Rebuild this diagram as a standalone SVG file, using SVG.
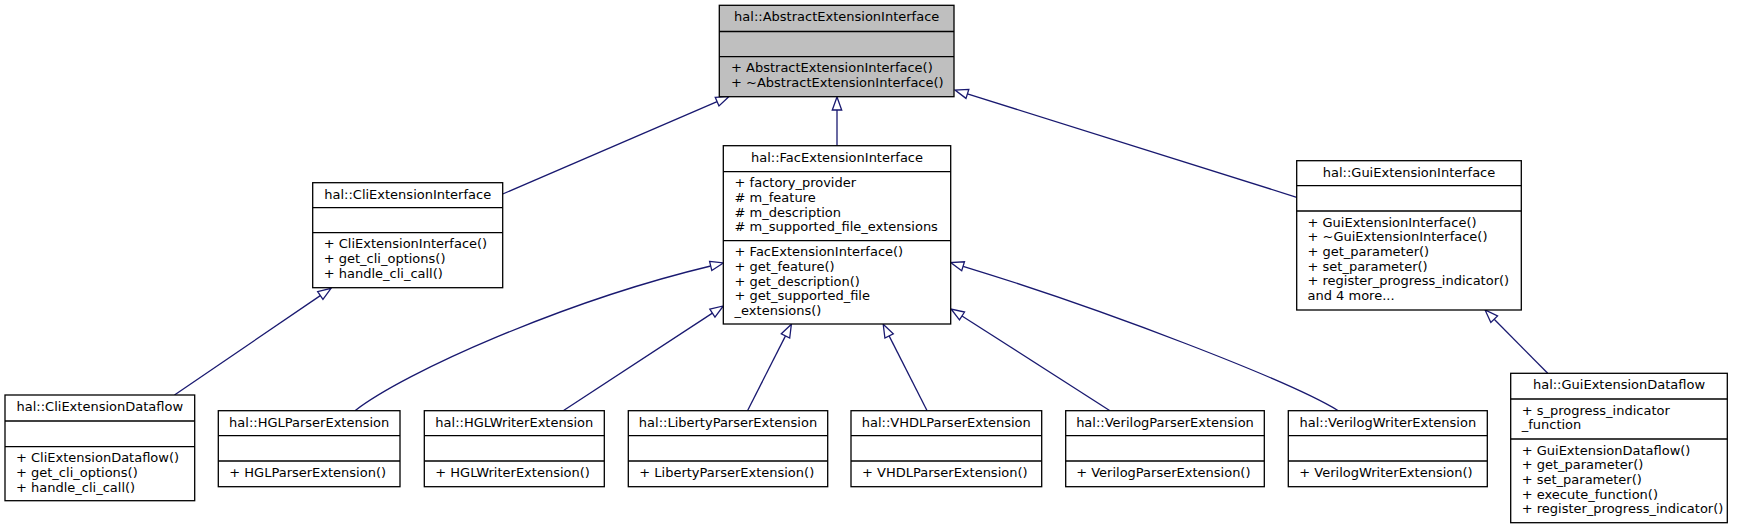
<svg xmlns="http://www.w3.org/2000/svg" width="1740" height="529" viewBox="0 0 1740 529">
<style>
text{font-family:"DejaVu Sans","Liberation Sans",sans-serif;font-size:13px;fill:#000}
.t{text-anchor:middle}
.b{fill:#fff;stroke:#000;stroke-width:1.3}
.g{fill:#bfbfbf;stroke:#000;stroke-width:1.3}
.d{stroke:#000;stroke-width:1.3}
.e{fill:none;stroke:#191970;stroke-width:1.3;marker-end:url(#ah)}
</style>
<defs>
<marker id="ah" markerUnits="userSpaceOnUse" markerWidth="16" markerHeight="12" viewBox="-1 -6 16 12" refX="0" refY="0" orient="auto" overflow="visible">
<path d="M0,-4.7 L13,0 L0,4.7 Z" fill="#fff" stroke="#191970" stroke-width="1.3"/>
</marker>
</defs>
<rect width="1740" height="529" fill="#fff"/>
<g id="connectors">
<path class="e" d="M502.7,194 L717.1,101.6"/>
<path class="e" d="M837,145.7 L837,110"/>
<path class="e" d="M1296.7,197.3 L967.4,93.9"/>
<path class="e" d="M174.5,395 L320.3,295.6"/>
<path class="e" d="M355,410.7 C405,372 564.9,301 710.7,266"/>
<path class="e" d="M563.2,410.7 L712.4,313.1"/>
<path class="e" d="M747.5,410.7 L785.5,335.9"/>
<path class="e" d="M927.1,410.7 L889.1,335.9"/>
<path class="e" d="M1110,410.7 L962,316"/>
<path class="e" d="M1338.3,410.7 C1290,381 1106,310 963.1,266.3"/>
<path class="e" d="M1547.7,373.3 L1494.2,319.2"/>
</g>
<g id="abstract">
<rect class="g" x="719.3" y="5.3" width="234.7" height="91.4"/>
<line class="d" x1="719.3" y1="31.5" x2="954" y2="31.5"/>
<line class="d" x1="719.3" y1="56.7" x2="954" y2="56.7"/>
<text class="t" x="836.7" y="21.3">hal::AbstractExtensionInterface</text>
<text x="731" y="72.3">+ AbstractExtensionInterface()</text>
<text x="731" y="87">+ ~AbstractExtensionInterface()</text>
</g>
<g id="cli">
<rect class="b" x="312.7" y="182.7" width="190" height="105"/>
<line class="d" x1="312.7" y1="207.7" x2="502.7" y2="207.7"/>
<line class="d" x1="312.7" y1="232.7" x2="502.7" y2="232.7"/>
<text class="t" x="407.7" y="198.7">hal::CliExtensionInterface</text>
<text x="323.7" y="248.3">+ CliExtensionInterface()</text>
<text x="323.7" y="263">+ get_cli_options()</text>
<text x="323.7" y="277.6">+ handle_cli_call()</text>
</g>
<g id="fac">
<rect class="b" x="723.3" y="145.7" width="227.4" height="178.3"/>
<line class="d" x1="723.3" y1="171.7" x2="950.7" y2="171.7"/>
<line class="d" x1="723.3" y1="240.7" x2="950.7" y2="240.7"/>
<text class="t" x="837" y="161.7">hal::FacExtensionInterface</text>
<text x="734.6" y="187.3">+ factory_provider</text>
<text x="734.6" y="202"># m_feature</text>
<text x="734.6" y="216.6"># m_description</text>
<text x="734.6" y="231.3"># m_supported_file_extensions</text>
<text x="734.6" y="256.3">+ FacExtensionInterface()</text>
<text x="734.6" y="271">+ get_feature()</text>
<text x="734.6" y="285.6">+ get_description()</text>
<text x="734.6" y="300.3">+ get_supported_file</text>
<text x="734.6" y="315">_extensions()</text>
</g>
<g id="gui">
<rect class="b" x="1296.7" y="160.7" width="224.6" height="149.3"/>
<line class="d" x1="1296.7" y1="185.7" x2="1521.3" y2="185.7"/>
<line class="d" x1="1296.7" y1="211" x2="1521.3" y2="211"/>
<text class="t" x="1409" y="176.7">hal::GuiExtensionInterface</text>
<text x="1307.5" y="226.6">+ GuiExtensionInterface()</text>
<text x="1307.5" y="241.3">+ ~GuiExtensionInterface()</text>
<text x="1307.5" y="255.9">+ get_parameter()</text>
<text x="1307.5" y="270.6">+ set_parameter()</text>
<text x="1307.5" y="285.3">+ register_progress_indicator()</text>
<text x="1307.5" y="299.9">and 4 more...</text>
</g>
<g id="clidataflow">
<rect class="b" x="5" y="395" width="189.7" height="105.7"/>
<line class="d" x1="5" y1="421" x2="194.7" y2="421"/>
<line class="d" x1="5" y1="446.7" x2="194.7" y2="446.7"/>
<text class="t" x="99.8" y="411">hal::CliExtensionDataflow</text>
<text x="16" y="462.3">+ CliExtensionDataflow()</text>
<text x="16" y="477">+ get_cli_options()</text>
<text x="16" y="491.6">+ handle_cli_call()</text>
</g>
<g id="hglparser">
<rect class="b" x="218.3" y="410.7" width="181.7" height="76"/>
<line class="d" x1="218.3" y1="435.7" x2="400" y2="435.7"/>
<line class="d" x1="218.3" y1="461" x2="400" y2="461"/>
<text class="t" x="309.2" y="426.7">hal::HGLParserExtension</text>
<text x="229.3" y="476.6">+ HGLParserExtension()</text>
</g>
<g id="hglwriter">
<rect class="b" x="424.3" y="410.7" width="180" height="76"/>
<line class="d" x1="424.3" y1="435.7" x2="604.3" y2="435.7"/>
<line class="d" x1="424.3" y1="461" x2="604.3" y2="461"/>
<text class="t" x="514.3" y="426.7">hal::HGLWriterExtension</text>
<text x="435.3" y="476.6">+ HGLWriterExtension()</text>
</g>
<g id="libertyparser">
<rect class="b" x="628.3" y="410.7" width="199.4" height="76"/>
<line class="d" x1="628.3" y1="435.7" x2="827.7" y2="435.7"/>
<line class="d" x1="628.3" y1="461" x2="827.7" y2="461"/>
<text class="t" x="728" y="426.7">hal::LibertyParserExtension</text>
<text x="639.3" y="476.6">+ LibertyParserExtension()</text>
</g>
<g id="vhdlparser">
<rect class="b" x="851" y="410.7" width="190.7" height="76"/>
<line class="d" x1="851" y1="435.7" x2="1041.7" y2="435.7"/>
<line class="d" x1="851" y1="461" x2="1041.7" y2="461"/>
<text class="t" x="946.3" y="426.7">hal::VHDLParserExtension</text>
<text x="862" y="476.6">+ VHDLParserExtension()</text>
</g>
<g id="verilogparser">
<rect class="b" x="1065.7" y="410.7" width="198.6" height="76"/>
<line class="d" x1="1065.7" y1="435.7" x2="1264.3" y2="435.7"/>
<line class="d" x1="1065.7" y1="461" x2="1264.3" y2="461"/>
<text class="t" x="1165" y="426.7">hal::VerilogParserExtension</text>
<text x="1076.2" y="476.6">+ VerilogParserExtension()</text>
</g>
<g id="verilogwriter">
<rect class="b" x="1288.3" y="410.7" width="199" height="76"/>
<line class="d" x1="1288.3" y1="435.7" x2="1487.3" y2="435.7"/>
<line class="d" x1="1288.3" y1="461" x2="1487.3" y2="461"/>
<text class="t" x="1387.8" y="426.7">hal::VerilogWriterExtension</text>
<text x="1299.3" y="476.6">+ VerilogWriterExtension()</text>
</g>
<g id="guidataflow">
<rect class="b" x="1510.7" y="373.3" width="216.6" height="149.4"/>
<line class="d" x1="1510.7" y1="399" x2="1727.3" y2="399"/>
<line class="d" x1="1510.7" y1="439" x2="1727.3" y2="439"/>
<text class="t" x="1619" y="389.3">hal::GuiExtensionDataflow</text>
<text x="1521.7" y="414.6">+ s_progress_indicator</text>
<text x="1521.7" y="429.3">_function</text>
<text x="1521.7" y="454.6">+ GuiExtensionDataflow()</text>
<text x="1521.7" y="469.3">+ get_parameter()</text>
<text x="1521.7" y="483.9">+ set_parameter()</text>
<text x="1521.7" y="498.6">+ execute_function()</text>
<text x="1521.7" y="513.3">+ register_progress_indicator()</text>
</g>
</svg>
